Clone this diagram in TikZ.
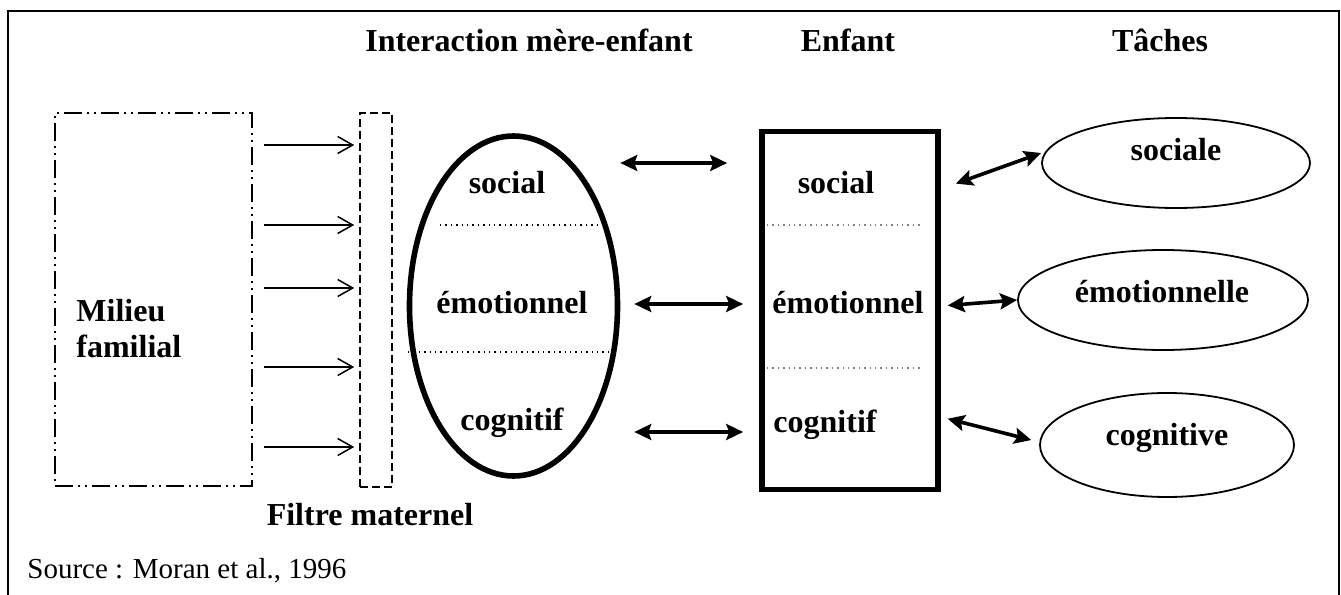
\documentclass[tikz,border=0pt]{standalone}
\usepackage{fontspec}
\setmainfont{Liberation Serif}
\usetikzlibrary{shapes.geometric, arrows.meta, positioning}

\tikzset{
  lbl/.style={font=\fontsize{16}{19}\selectfont\bfseries, inner sep=0pt},
  head/.style={font=\fontsize{16}{19}\selectfont\bfseries, inner sep=0pt},
  flow/.style={line width=0.75pt, -{Straight Barb[length=7.5pt,width=8.5pt]}},
  link/.style={line width=1.8pt, {Stealth[length=8.5pt,width=8pt,inset=1.5pt]}-{Stealth[length=8.5pt,width=8pt,inset=1.5pt]}},
  task/.style={draw, ellipse, line width=0.9pt, inner sep=0pt},
  divider/.style={dotted, line width=0.7pt}
}

\begin{document}
\begin{tikzpicture}[x=0.5pt,y=-0.5pt]
    \useasboundingbox (0,0) rectangle (1341,595);
    % Frame
    \draw[line width=1pt] (8,595) -- (8,11) -- (1339,11) -- (1339,595);

    % Headers
    \node[head, anchor=base] (hinter) at (529,51) {Interaction mère-enfant};
    \node[head, anchor=base] (henfant) at (848,51) {Enfant};
    \node[head, anchor=base] (htaches) at (1160,51) {Tâches};

    % Milieu familial
    \node[draw, line width=1pt, dash pattern=on 9pt off 2.5pt on 1pt off 2.5pt on 1pt off 2.5pt,
          minimum width=98.5pt, minimum height=186.5pt] (milieu) at (153.5,299.5) {};
    \node[lbl, anchor=base west] (milieutxt) at (76,321) {Milieu};
    \node[lbl, anchor=base west] (familialtxt) at (76,357) {familial};

    % Filtre maternel
    \node[draw, line width=0.8pt, dash pattern=on 4pt off 2pt,
          minimum width=16pt, minimum height=187pt] (filtre) at (376,300) {};
    \node[lbl, anchor=base] (filtretxt) at (370,525) {Filtre maternel};
    \foreach \y in {145,225,288,367,447}
        \draw[flow, shorten <=5.5pt, shorten >=2.5pt] (milieu.east |- 0,\y) -- (filtre.west |- 0,\y);

    % Interaction mere-enfant
    \node[draw, ellipse, line width=2.8pt, minimum width=104pt, minimum height=170pt, inner sep=0pt] (inter) at (513.5,306) {};
    \draw[divider] (440,225) -- (600,225);
    \draw[divider] (408,352) -- (612,352);
    \node[lbl, anchor=base] (isoc) at (507,193) {social};
    \node[lbl, anchor=base] (iemo) at (512,313) {émotionnel};
    \node[lbl, anchor=base] (icog) at (512,430) {cognitif};

    % Enfant
    \node[draw, line width=2.8pt, minimum width=88pt, minimum height=179pt] (enfant) at (850,310.5) {};
    \draw[divider, gray] (767,225) -- (922,225);
    \draw[divider, gray] (767,368) -- (922,368);
    \node[lbl, anchor=base] (esoc) at (836,193) {social};
    \node[lbl, anchor=base] (eemo) at (848,313) {émotionnel};
    \node[lbl, anchor=base] (ecog) at (825,432) {cognitif};

    \draw[link, shorten >=16pt] (inter.east |- 0,163) -- (enfant.west |- 0,163);
    \draw[link, shorten <=7pt, shorten >=8pt] (inter.east |- 0,304) -- (enfant.west |- 0,304);
    \draw[link, shorten <=7pt, shorten >=8pt] (inter.east |- 0,432) -- (enfant.west |- 0,432);

    % Taches
    \node[task, minimum width=134pt, minimum height=45pt] (tsoc) at (1176,163) {};
    \node[lbl, anchor=base] (tsoctxt) at (1176,160) {sociale};
    \node[task, minimum width=145pt, minimum height=50pt] (temo) at (1163,300) {};
    \node[lbl, anchor=base] (temotxt) at (1162,302) {émotionnelle};
    \node[task, minimum width=127pt, minimum height=52pt] (tcog) at (1167,445) {};
    \node[lbl, anchor=base] (tcogtxt) at (1167,445) {cognitive};

    \draw[link, shorten <=8pt] (enfant.east |- 0,189) -- ([yshift=5pt]tsoc.west);
    \draw[link, shorten <=3.5pt] (enfant.east |- 0,306) -- (temo.west);
    \draw[link, shorten <=3.5pt, shorten >=4pt] (enfant.east |- 0,417) -- ([yshift=1.5pt]tcog.west);

    % Source
    \node[font=\fontsize{14.5}{17}\selectfont, inner sep=0pt, anchor=base west] (source) at (27,578) {Source : Moran et al., 1996};
\end{tikzpicture}
\end{document}
